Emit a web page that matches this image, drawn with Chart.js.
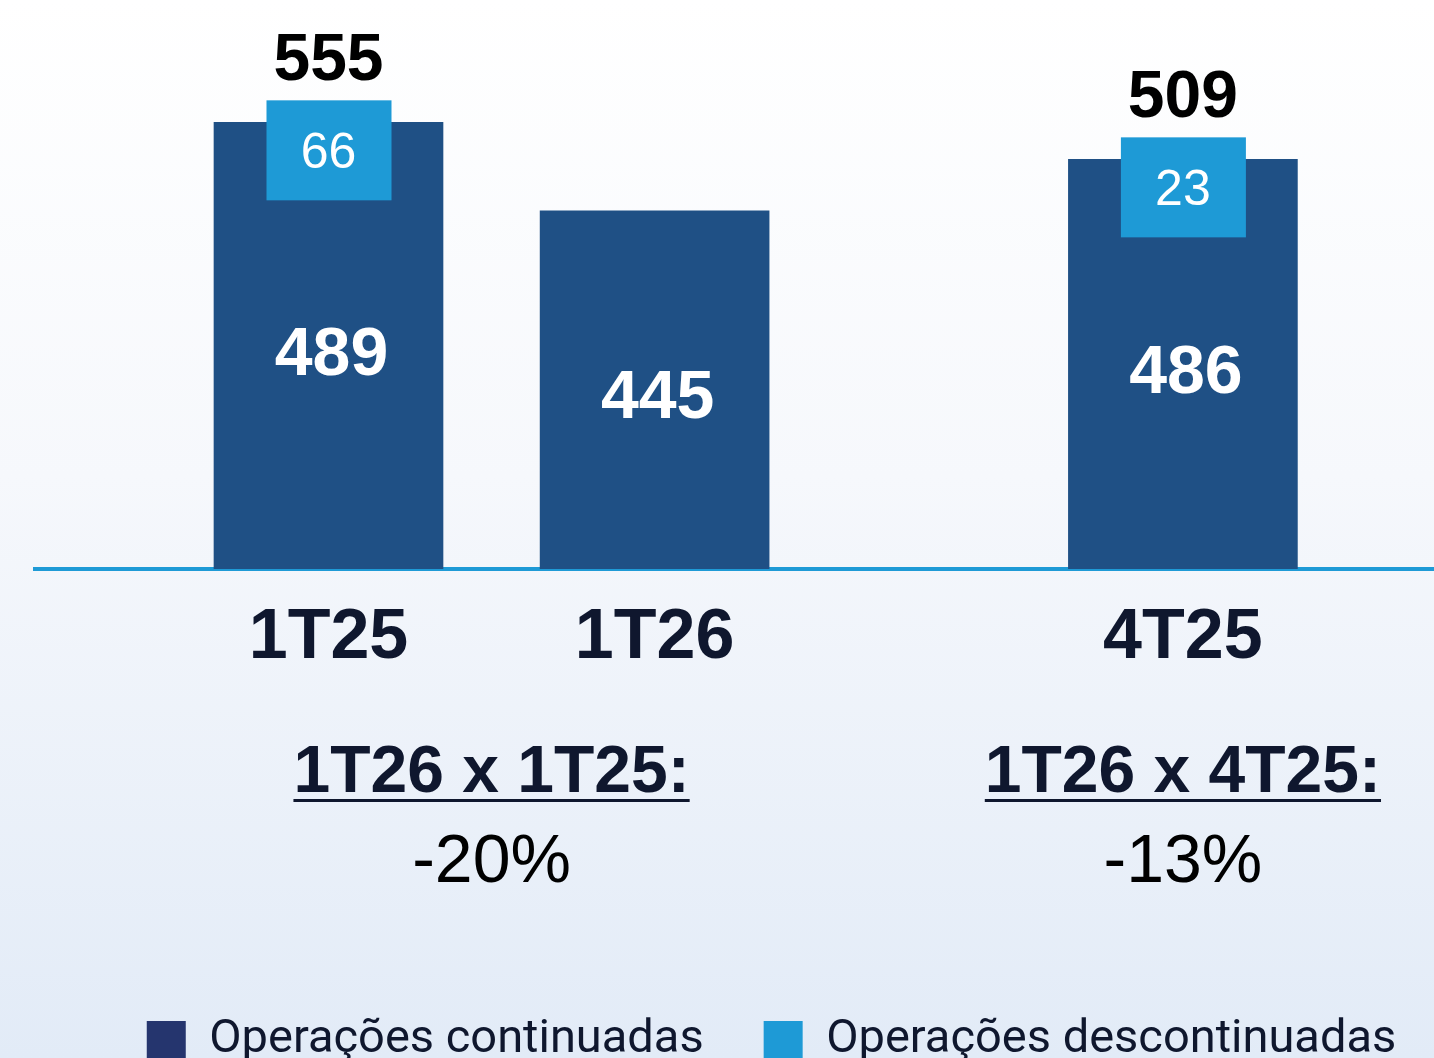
<!DOCTYPE html>
<html>
<head>
<meta charset="utf-8">
<script src="https://cdn.jsdelivr.net/npm/chart.js@4"></script>
<style>
  html, body { margin: 0; padding: 0; overflow: hidden; }
  body {
    width: 1434px; height: 1058px;
    background: linear-gradient(to bottom, #ffffff 0%, #f6f8fc 45%, #e2ebf7 100%);
  }
  #wrap { width: 1434px; height: 1074px; position: relative; }
</style>
</head>
<body>
<div id="wrap"><canvas id="chart"></canvas></div>
<script>
const periods = ['1T25', '1T26', '4T25'];
const slots = [0, 1, 2.62];            // position of each period along the axis
const totals = [555, 445, 509];
const continued = [489, 445, 486];
const discontinued = [66, null, 23];
const compareLabels = ['1T26 x 1T25:', '1T26 x 4T25:'];
const compareValues = ['-20%', '-13%'];
const compareSlots = [0.5, 2.62];

const darkBlue = '#1f5085';
const lightBlue = '#1e9ad6';
const legendColors = ['#25356e', '#1e9ad6'];
const textDark = '#0f172e';
const arial = '"Liberation Sans", Arial, sans-serif';

// value labels + the light blue box with discontinued value
const labelPlugin = {
  id: 'barLabels',
  afterLayout(chart) {
    // legend sits a bit right of centre in the original
    chart.legend.left += 37;
    chart.legend.right += 37;
  },
  afterDatasetsDraw(chart) {
    const ctx = chart.ctx;
    const y = chart.scales.y;
    const base = y.getPixelForValue(0);
    chart.getDatasetMeta(0).data.forEach((bar, i) => {
      ctx.save();
      ctx.textAlign = 'center';
      ctx.textBaseline = 'middle';
      ctx.fillStyle = '#ffffff';
      ctx.font = 'bold 68px ' + arial;
      ctx.fillText(continued[i], bar.x + 3, bar.y + (base - bar.y) * 0.52 + 2);
      if (discontinued[i]) {
        const top = bar.y - 22;
        ctx.fillStyle = lightBlue;
        ctx.fillRect(bar.x - 62, top, 125, 100);
        ctx.fillStyle = '#ffffff';
        ctx.font = '50px ' + arial;
        ctx.fillText(discontinued[i], bar.x, top + 54);
        ctx.fillStyle = '#000000';
        ctx.font = 'bold 66px ' + arial;
        ctx.fillText(totals[i], bar.x, top - 39);
      }
      ctx.restore();
    });
  },
  afterDraw(chart) {
    const ctx = chart.ctx;
    const x = chart.scales.x;
    ctx.save();
    ctx.textAlign = 'center';
    ctx.textBaseline = 'middle';
    compareLabels.forEach((lbl, i) => {
      const cx = x.getPixelForValue(compareSlots[i]);
      ctx.fillStyle = textDark;
      ctx.font = 'bold 66px ' + arial;
      ctx.fillText(lbl, cx, 774);
      const w = ctx.measureText(lbl).width;
      ctx.fillRect(cx - w / 2, 799, w, 3);
      ctx.fillStyle = '#000000';
      ctx.font = '68px ' + arial;
      ctx.fillText(compareValues[i], cx, 863);
    });
    ctx.restore();
  }
};

const ctx = document.getElementById('chart');
new Chart(ctx, {
  type: 'bar',
  data: {
    datasets: [
      {
        label: 'Operações continuadas',
        data: periods.map((p, i) => ({ x: slots[i], y: totals[i] })),
        backgroundColor: darkBlue,
        barThickness: 229,
        grouped: false
      },
      {
        label: 'Operações descontinuadas',
        data: periods.map((p, i) => ({ x: slots[i], y: discontinued[i] })),
        backgroundColor: 'rgba(0,0,0,0)',
        barThickness: 125,
        grouped: false
      }
    ]
  },
  options: {
    maintainAspectRatio: false,
    animation: false,
    layout: { padding: { left: 35, right: 0, top: 0, bottom: 0 } },
    scales: {
      x: {
        type: 'linear',
        offset: false,
        bounds: 'ticks',
        min: -0.9,
        max: 3.39,
        grid: { display: false, drawTicks: false },
        border: { display: true, color: lightBlue, width: 4 },
        afterBuildTicks: function (scale) {
          scale.ticks = slots.map(v => ({ value: v }));
        },
        afterFit: function (scale) {
          scale.height = scale.chart.height - 569 - scale.chart.legend.height;
        },
        ticks: {
          autoSkip: false,
          maxRotation: 0,
          padding: 28,
          color: textDark,
          font: { family: arial, size: 70, weight: 'bold' },
          callback: function (v) {
            const i = slots.indexOf(v);
            return i >= 0 ? periods[i] : '';
          }
        }
      },
      y: { display: false, min: 0, max: 707 }
    },
    plugins: {
      tooltip: { enabled: false },
      legend: {
        position: 'bottom',
        labels: {
          boxWidth: 39,
          boxHeight: 39,
          padding: 60,
          color: textDark,
          font: { family: 'Roboto', size: 47 },
          generateLabels: function (chart) {
            return chart.data.datasets.map((ds, i) => ({
              text: ds.label,
              fillStyle: legendColors[i],
              strokeStyle: legendColors[i],
              lineWidth: 0,
              hidden: false,
              datasetIndex: i,
              fontColor: textDark
            }));
          }
        }
      }
    }
  },
  plugins: [labelPlugin]
});
</script>
</body>
</html>
